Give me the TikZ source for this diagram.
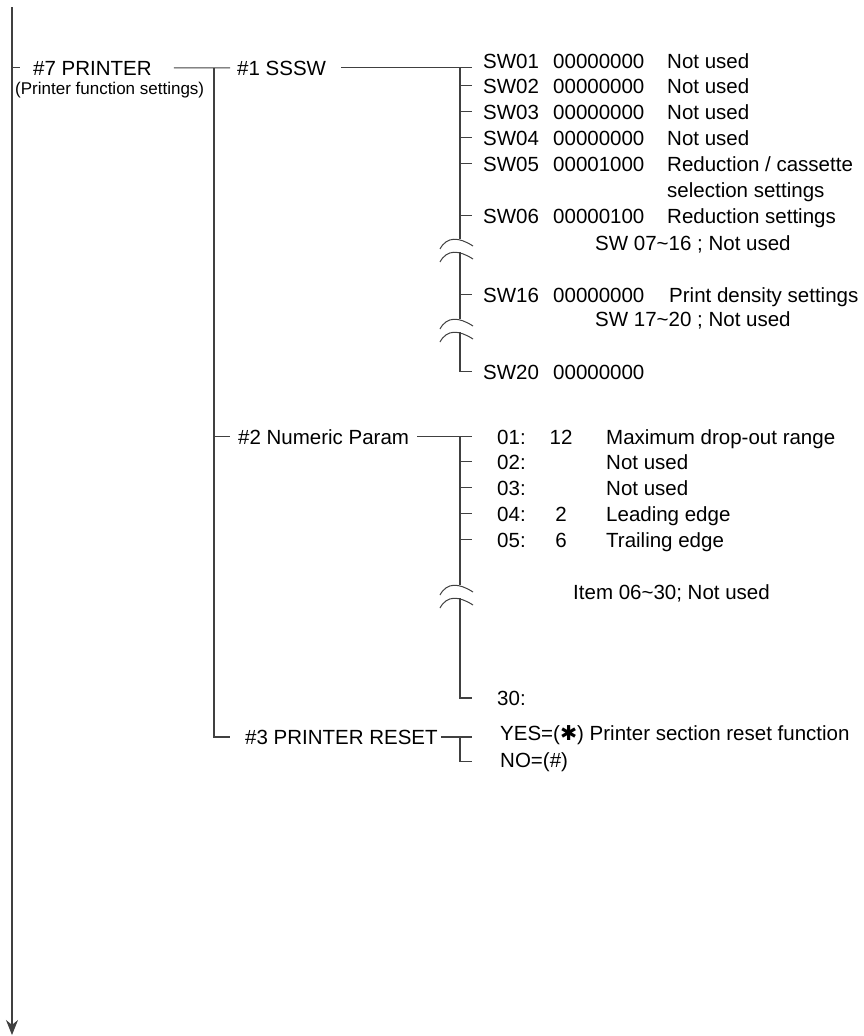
\documentclass[tikz,border=0pt]{standalone}
\usepackage{fontspec}
\setmainfont{Liberation Sans}
\newfontfamily\symfont{DejaVu Sans}
\usetikzlibrary{positioning, arrows.meta}

\begin{document}
\begin{tikzpicture}[x=1pt, y=-1pt, >={Stealth[length=15pt, width=12pt]},
  t/.style={inner sep=0pt, anchor=base west, font=\fontsize{20.5}{24}\selectfont},
  sub/.style={t, font=\fontsize{17}{20}\selectfont},
  lvl/.style={t, inner xsep=#1},
  val/.style={t, anchor=base},
  ln/.style={line width=1.1pt, black!75},
  cut/.pic={
    \draw[ln, line width=1pt] (-20,10) .. controls (-13,-3) and (-1,-2) .. (13,7);
    \draw[ln, line width=1pt] (-20,23) .. controls (-13,10) and (-1,11) .. (13,20);}]
  \useasboundingbox (0,0) rectangle (864,1036);

  % main line and printer menu
  \coordinate (top) at (12,7);
  \coordinate (bot) at (12,1035);
  \draw[ln, ->] (top) -- (bot);
  \node[t] (p7) at (33,75) {\#7 PRINTER};
  \node[sub] (p7sub) at (15,94) {(Printer function settings)};
  \draw[ln, shorten >=13pt] (top |- p7.west) -- (p7.west);

  % level 2
  \node[lvl=7pt] (sssw) at (230,75) {\#1 SSSW};
  \node[lvl=8pt] (np) at (230,444) {\#2 Numeric Param};
  \node[lvl=15pt] (reset) at (230,744) {\#3 PRINTER RESET};
  \coordinate (j1) at ([xshift=-16pt]sssw.west);
  \coordinate (j2) at ([xshift=-16pt]np.west);
  \coordinate (j3) at ([xshift=-16pt]reset.west);
  \draw[ln, shorten <=22pt] (p7.east) -- (sssw.west);
  \draw[ln] (j1) -- (j3) -- (reset.west);
  \draw[ln] (j2) -- (np.west);

  % SSSW switches
  \node[lvl=11pt] (sw01) at (472,68) {SW01};
  \node[lvl=11pt] (sw02) at (472,93) {SW02};
  \node[lvl=11pt] (sw03) at (472,119) {SW03};
  \node[lvl=11pt] (sw04) at (472,145) {SW04};
  \node[lvl=11pt] (sw05) at (472,171) {SW05};
  \node[lvl=11pt] (sw06) at (472,223) {SW06};
  \node[lvl=11pt] (sw16) at (472,302) {SW16};
  \node[lvl=11pt] (sw20) at (472,379) {SW20};
  \node[t] (v01) at (553,68) {00000000};
  \node[t] (v02) at (553,93) {00000000};
  \node[t] (v03) at (553,119) {00000000};
  \node[t] (v04) at (553,145) {00000000};
  \node[t] (v05) at (553,171) {00001000};
  \node[t] (v06) at (553,223) {00000100};
  \node[t] (v16) at (553,302) {00000000};
  \node[t] (v20) at (553,379) {00000000};
  \node[t] (d01) at (667,68) {Not used};
  \node[t] (d02) at (667,93) {Not used};
  \node[t] (d03) at (667,119) {Not used};
  \node[t] (d04) at (667,145) {Not used};
  \node[t] (d05) at (667,171) {Reduction / cassette};
  \node[t] (d05b) at (667,197) {selection settings};
  \node[t] (d06) at (667,223) {Reduction settings};
  \node[t] (d16) at (669,302) {Print density settings};
  \node[t] (rng1) at (595,250) {SW 07\textasciitilde 16 ; Not used};
  \node[t] (rng2) at (595,326) {SW 17\textasciitilde 20 ; Not used};

  \draw[ln, shorten <=8pt] (sssw.east) -- (sssw.east -| sw01.west);
  \path (sssw.east -| sw01.west) ++(-12,0) coordinate (s0);
  \coordinate (c1) at (460,239);
  \coordinate (c2) at (460,319);
  \pic at (c1) {cut};
  \pic at (c2) {cut};
  \draw[ln] (s0) -- (c1);
  \draw[ln] ([yshift=-13pt]c1) -- (c2);
  \draw[ln] ([yshift=-13pt]c2) -- (c2 |- sw20.west) -- (sw20.west);
  \draw[ln] (sw02.west -| s0) -- (sw02.west);
  \draw[ln] (sw03.west -| s0) -- (sw03.west);
  \draw[ln] (sw04.west -| s0) -- (sw04.west);
  \draw[ln] (sw05.west -| s0) -- (sw05.west);
  \draw[ln] (sw06.west -| s0) -- (sw06.west);
  \draw[ln] (sw16.west -| s0) -- (sw16.west);

  % numeric parameters
  \node[lvl=25pt] (n01) at (472,444) {01:};
  \node[lvl=25pt] (n02) at (472,469) {02:};
  \node[lvl=25pt] (n03) at (472,495) {03:};
  \node[lvl=25pt] (n04) at (472,521) {04:};
  \node[lvl=25pt] (n05) at (472,547) {05:};
  \node[lvl=25pt] (n30) at (472,705) {30:};
  \node[val] (nv01) at (561,444) {12};
  \node[val] (nv04) at (561,521) {2};
  \node[val] (nv05) at (561,547) {6};
  \node[t] (nd01) at (606,444) {Maximum drop-out range};
  \node[t] (nd02) at (606,469) {Not used};
  \node[t] (nd03) at (606,495) {Not used};
  \node[t] (nd04) at (606,521) {Leading edge};
  \node[t] (nd05) at (606,547) {Trailing edge};
  \node[t] (nrng) at (573,599) {Item 06\textasciitilde 30; Not used};

  \draw[ln] (np.east) -- (np.east -| n01.west);
  \path (np.east -| n01.west) ++(-12,0) coordinate (n0);
  \coordinate (c3) at (460,585);
  \pic at (c3) {cut};
  \draw[ln] (n0) -- (c3);
  \draw[ln] ([yshift=-13pt]c3) -- (c3 |- n30.west) -- (n30.west);
  \draw[ln] (n02.west -| n0) -- (n02.west);
  \draw[ln] (n03.west -| n0) -- (n03.west);
  \draw[ln] (n04.west -| n0) -- (n04.west);
  \draw[ln] (n05.west -| n0) -- (n05.west);

  % printer reset
  \node[lvl=28pt] (yes) at (472,740) {YES=({\symfont ✱}) Printer section reset function};
  \node[lvl=28pt] (no) at (472,767) {NO=(\#)};
  \draw[ln] ([xshift=-12pt]reset.east) -- (reset.east -| yes.west);
  \path (reset.east -| yes.west) ++(-12,0) coordinate (r0);
  \draw[ln] (r0) -- (r0 |- no.west) -- (no.west);
\end{tikzpicture}
\end{document}
